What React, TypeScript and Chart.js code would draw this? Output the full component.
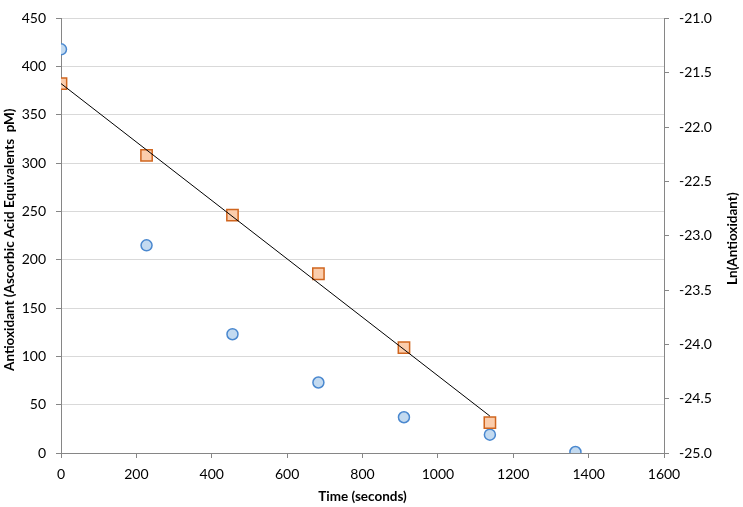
import { useEffect, useRef } from "react";
import { Chart, registerables } from "chart.js";

Chart.register(...registerables);

// time points (seconds)
const times = [0, 227, 455, 683, 910, 1138, 1365];
// antioxidant, ascorbic acid equivalents (left axis)
const antioxidant = [418, 215, 123, 73, 37, 19, 1];
// ln(antioxidant) (right axis), last point is off the chart
const lnTimes = [0, 227, 455, 683, 910, 1138];
const lnAntioxidant = [-21.6, -22.26, -22.81, -23.35, -24.03, -24.72];
// linear fit through the ln points
const fitTimes = [0, 1138];
const fitValues = [-21.6, -24.66];

const FONT = "Lato, 'Open Sans', sans-serif";
const AXIS = "#868686";
const GRID = "#d9d9d9";
const LEFT_TITLE = "Antioxidant (Ascorbic Acid Equivalents  pM)";
const RIGHT_TITLE = "Ln(Antioxidant)";

// both y titles read bottom-to-top, as in the spreadsheet original
const drawVertical = (ctx: CanvasRenderingContext2D, text: string, x: number, y: number) => {
  ctx.save();
  ctx.fillStyle = "#000000";
  ctx.font = `bold 13.5px ${FONT}`;
  ctx.textAlign = "center";
  ctx.textBaseline = "middle";
  ctx.translate(x, y);
  ctx.rotate(-Math.PI / 2);
  ctx.fillText(text, 0, 0);
  ctx.restore();
};

const yTitles = {
  id: "yTitles",
  afterDraw(chart: any) {
    const { ctx, chartArea } = chart;
    const mid = (chartArea.top + chartArea.bottom) / 2;
    drawVertical(ctx, LEFT_TITLE, 10, mid + 4);
    drawVertical(ctx, RIGHT_TITLE, 733, mid + 3);
  },
};

const App = () => {
  const chartRef = useRef<HTMLCanvasElement>(null);

  useEffect(() => {
    document.body.style.margin = "0";
    if (!chartRef.current) return;
    const ctx = chartRef.current.getContext("2d");
    if (!ctx) return;

    const chart = new Chart(ctx, {
      type: "scatter",
      data: {
        datasets: [
          {
            label: "Fit",
            data: fitTimes.map((t, i) => ({ x: t, y: fitValues[i] })),
            yAxisID: "y1",
            showLine: true,
            borderColor: "#000000",
            borderWidth: 1,
            pointRadius: 0,
          },
          {
            label: "Ln(Antioxidant)",
            data: lnTimes.map((t, i) => ({ x: t, y: lnAntioxidant[i] })),
            yAxisID: "y1",
            pointStyle: "rect",
            pointRadius: 8,
            borderWidth: 1.5,
            backgroundColor: "#fbcdac",
            borderColor: "#d0651e",
          },
          {
            label: "Antioxidant",
            data: times.map((t, i) => ({ x: t, y: antioxidant[i] })),
            yAxisID: "y",
            pointStyle: "circle",
            pointRadius: 5.5,
            borderWidth: 1.5,
            backgroundColor: "#c3daf0",
            borderColor: "#4a88cf",
          },
        ],
      },
      options: {
        animation: false,
        responsive: true,
        maintainAspectRatio: false,
        layout: { padding: { top: 8, left: 0, right: 0, bottom: 0 } },
        plugins: {
          legend: { display: false },
          tooltip: { enabled: false },
        },
        scales: {
          x: {
            type: "linear",
            min: 0,
            max: 1600,
            ticks: {
              stepSize: 200,
              color: "#000000",
              font: { family: FONT, size: 14 },
              padding: 8,
              callback: (v: any) => String(v),
            },
            grid: {
              drawOnChartArea: false,
              drawTicks: true,
              tickLength: 5,
              tickColor: AXIS,
            },
            border: { color: AXIS, width: 1 },
            title: {
              display: true,
              text: "Time (seconds)",
              color: "#000000",
              font: { family: FONT, size: 13.5, weight: "bold" },
              padding: { top: 2, bottom: 2 },
            },
            afterFit: (scale: any) => {
              scale.height = 54;
            },
          },
          y: {
            position: "left",
            min: 0,
            max: 450,
            ticks: {
              stepSize: 50,
              color: "#000000",
              font: { family: FONT, size: 14 },
              padding: 10,
            },
            grid: {
              color: GRID,
              drawTicks: true,
              tickLength: 5,
              tickColor: AXIS,
            },
            border: { color: AXIS, width: 1 },
            afterFit: (scale: any) => {
              scale.width = 61;
            },
          },
          y1: {
            position: "right",
            min: -25,
            max: -21,
            ticks: {
              stepSize: 0.5,
              color: "#000000",
              font: { family: FONT, size: 14 },
              padding: 10,
              callback: (v: any) => Number(v).toFixed(1),
            },
            grid: {
              drawOnChartArea: false,
              drawTicks: true,
              tickLength: 5,
              tickColor: AXIS,
            },
            border: { color: AXIS, width: 1 },
            afterFit: (scale: any) => {
              scale.width = 79;
            },
          },
        },
      },
      plugins: [yTitles],
    });

    return () => chart.destroy();
  }, []);

  return (
    <div style={{ width: 743, height: 507, background: "#ffffff", position: "relative" }}>
      <canvas ref={chartRef}></canvas>
    </div>
  );
};

export default App;
